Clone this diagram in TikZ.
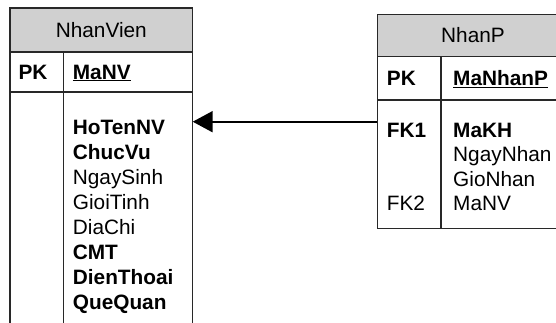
\documentclass[tikz,border=0pt]{standalone}
\usepackage{fontspec}
\setmainfont{Liberation Sans}
\usetikzlibrary{arrows.meta}
\definecolor{hdrgray}{RGB}{208,208,208}
\definecolor{linegray}{RGB}{40,40,40}
\begin{document}
\begin{tikzpicture}[x=1pt,y=1pt,
  tbl/.style={draw=linegray,line width=1.2pt},
  hdr/.style={tbl,fill=hdrgray},
  sep/.style={draw=linegray,line width=1.2pt},
  txt/.style={anchor=base west,inner sep=0pt,font=\fontsize{20.8}{25}\selectfont},
  btxt/.style={txt,font=\fontsize{20.8}{25}\selectfont\bfseries},
  htxt/.style={anchor=base,inner sep=0pt,font=\fontsize{20.8}{25}\selectfont},
  fk/.style={line width=2pt,-{Triangle[length=20pt,width=21pt]}}]
\useasboundingbox (0,0) rectangle (556,-322);
\clip (0,0) rectangle (556,-322);
\fill[white] (0,0) rectangle (556,-322);
% left table NhanVien
\filldraw[hdr] (10,-8) rectangle (192.7,-52);
\draw[tbl] (10,-52) rectangle (192.7,-330);
\draw[sep] (10,-92) -- (192.7,-92);
\draw[sep] (63.3,-52) -- (63.3,-330);
\node[htxt] (nvtitle) at (101.3,-37) {NhanVien};
\node[btxt] (nvpk) at (18.3,-79) {PK};
\node[btxt] (nvmanv) at (72.7,-79) {\underline{MaNV}};
\node[btxt] (nv1) at (72.7,-134) {HoTenNV};
\node[btxt] (nv2) at (72.7,-159) {ChucVu};
\node[txt] (nv3) at (72.7,-184) {NgaySinh};
\node[txt] (nv4) at (72.7,-209) {GioiTinh};
\node[txt] (nv5) at (72.7,-234) {DiaChi};
\node[btxt] (nv6) at (72.7,-259) {CMT};
\node[btxt] (nv7) at (72.7,-284) {DienThoai};
\node[btxt] (nv8) at (72.7,-309) {QueQuan};
% right table NhanP
\filldraw[hdr] (377.3,-14.3) rectangle (575,-56.7);
\draw[tbl] (377.3,-56.7) rectangle (575,-228.3);
\draw[sep] (377.3,-100) -- (575,-100);
\draw[sep] (441,-56.7) -- (441,-228.3);
\node[htxt] (nptitle) at (473,-42.5) {NhanP};
\node[btxt] (nppk) at (386.7,-85.3) {PK};
\node[btxt] (npma) at (453,-85.3) {\underline{MaNhanP}};
\node[btxt] (npfk1) at (386.7,-137.3) {FK1};
\node[btxt] (np1) at (453,-137.3) {MaKH};
\node[txt] (np2) at (453,-161.8) {NgayNhan};
\node[txt] (np3) at (453,-186.3) {GioNhan};
\node[txt] (np4) at (453,-210.8) {MaNV};
\node[txt] (npfk2) at (386.7,-210.8) {FK2};
% connector
\coordinate (npleft) at (377.3,-121.7);
\coordinate (nvright) at (192.7,-121.7);
\draw[fk] (npleft) -- (nvright);
\end{tikzpicture}
\end{document}
